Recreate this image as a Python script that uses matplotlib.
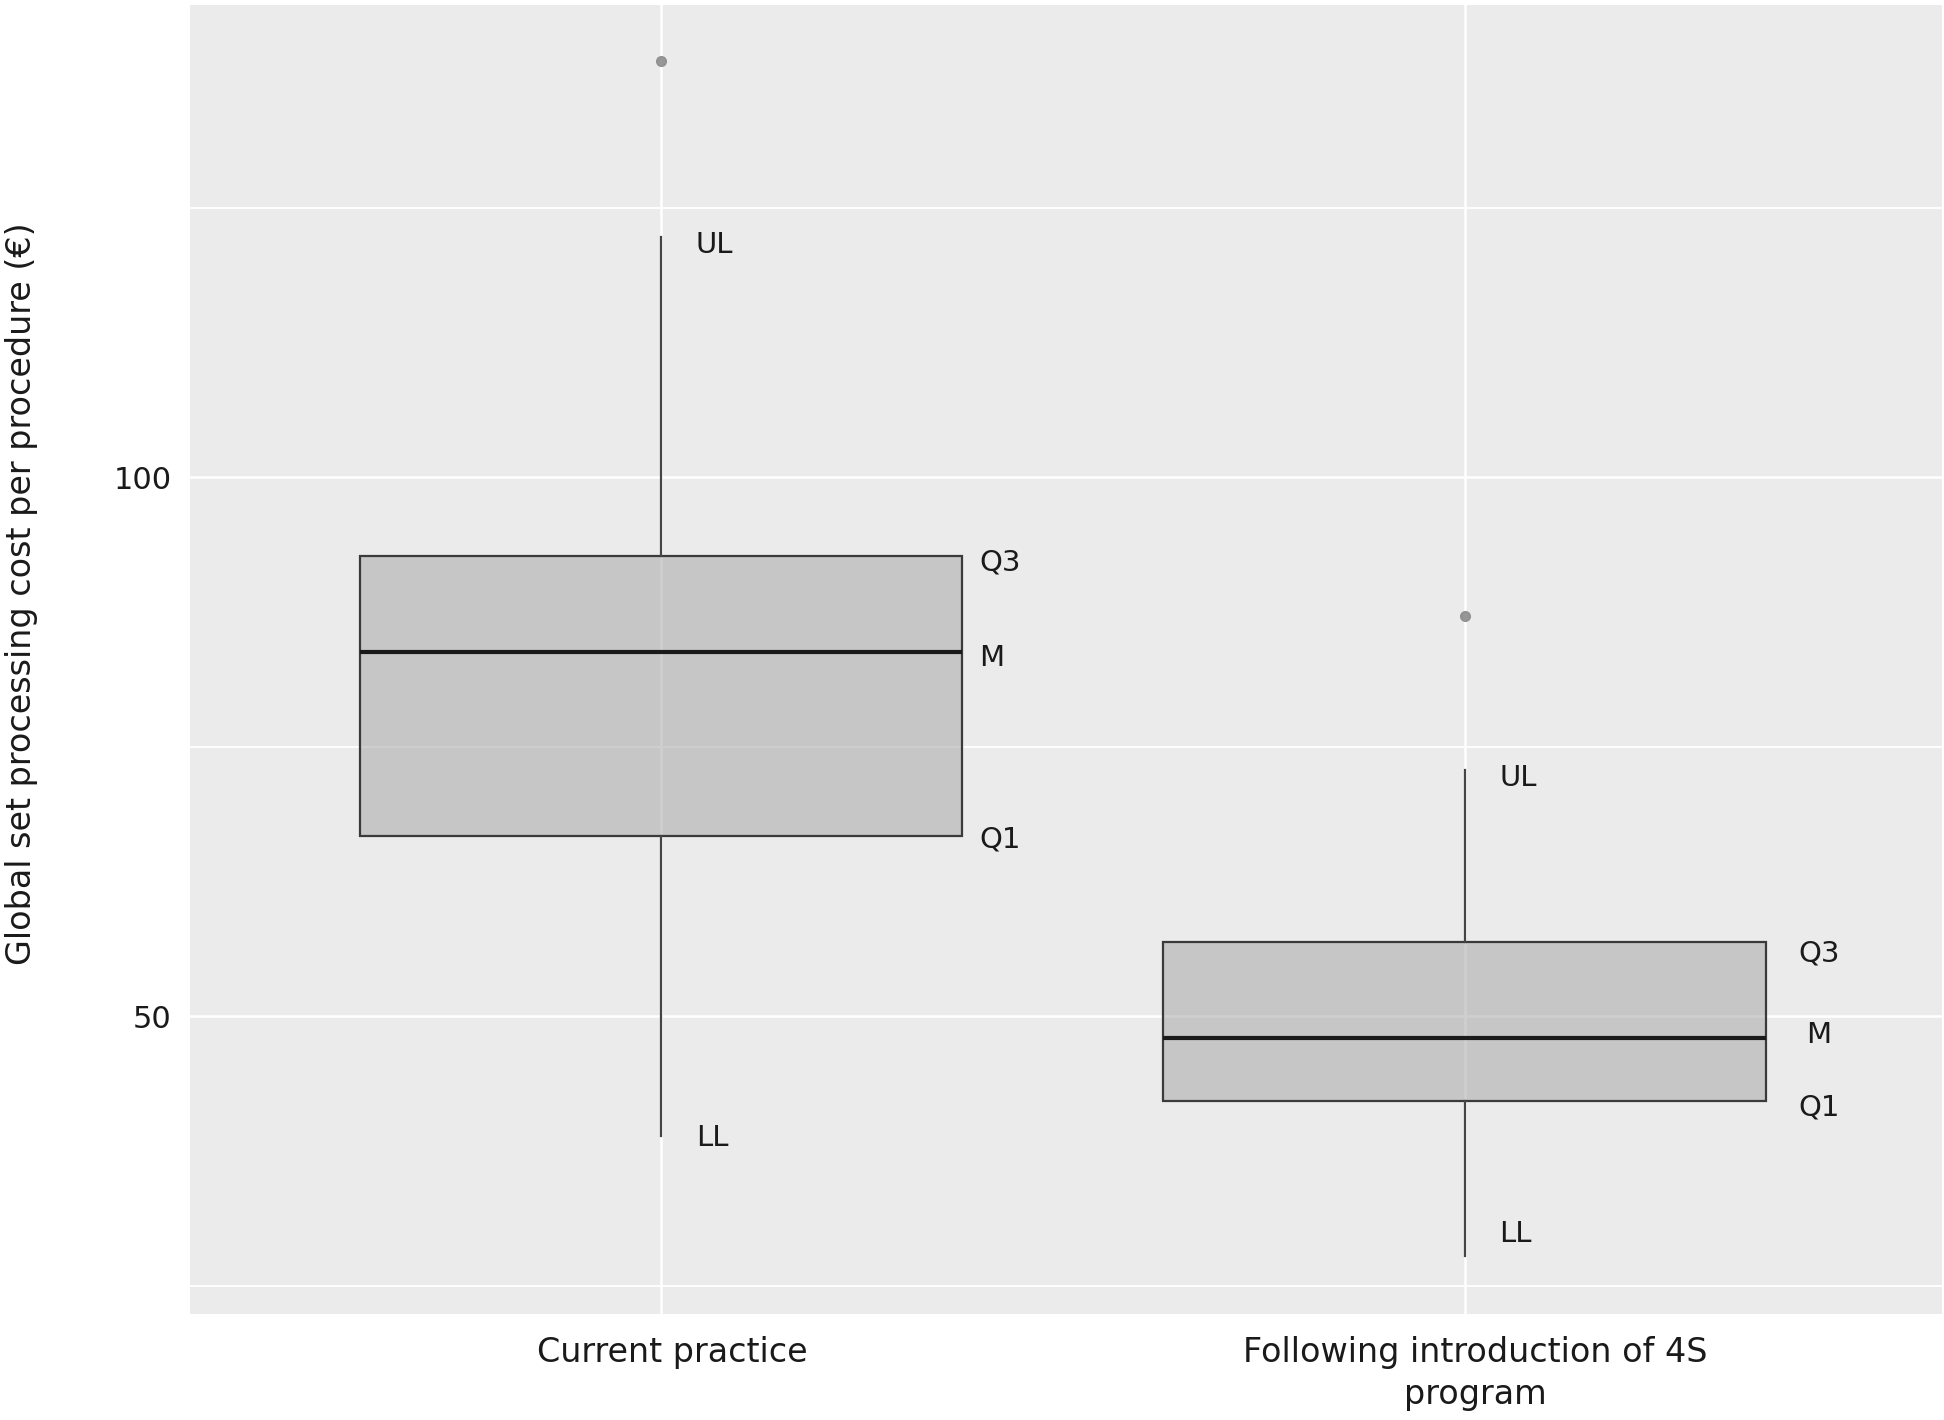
import matplotlib
matplotlib.use('Agg')
import matplotlib.pyplot as plt
import matplotlib.transforms as mtransforms

# box summary values
groups = ['Current practice', 'Following introduction of 4S\nprogram']
q1 = [66.7, 42.2]
med = [83.8, 48.0]
q3 = [92.7, 56.9]
lower = [38.9, 27.8]
upper = [122.3, 72.9]
outliers = [[138.6], [87.1]]

box_labels = ['LL', 'Q1', 'M', 'Q3', 'UL']

plt.rcParams['font.family'] = ['DejaVu Sans']

fig = plt.figure(figsize=(19.44, 14.20), dpi=100)
ax = fig.add_axes([0.0977, 0.0746, 0.9013, 0.9219])
ax.set_facecolor('#ebebeb')
for s in ax.spines.values():
    s.set_visible(False)

stats = []
for i in range(len(groups)):
    stats.append({'med': med[i], 'q1': q1[i], 'q3': q3[i],
                  'whislo': lower[i], 'whishi': upper[i], 'fliers': outliers[i]})

pos = [1, 2]
ax.bxp(stats, positions=pos, widths=0.75, patch_artist=True, showcaps=False,
       boxprops=dict(facecolor=(0.66, 0.66, 0.66, 0.55), edgecolor='#3a3a3a', linewidth=1.6),
       medianprops=dict(color='#1a1a1a', linewidth=3.0),
       whiskerprops=dict(color='#444444', linewidth=1.6),
       flierprops=dict(marker='o', markersize=7, markerfacecolor='#8c8c8c',
                       markeredgecolor='#8c8c8c', alpha=0.9),
       zorder=3)

# annotation letters
txt_kw = dict(textcoords='offset points', ha='left', va='center', fontsize=21, color='#1a1a1a', zorder=5)
offs = [
    {'UL': (25, -6), 'Q3': (12, -5), 'M': (12, -4), 'Q1': (12, -2), 'LL': (25, -1)},
    {'UL': (25, -6), 'Q3': (23, -8), 'M': (29, 2), 'Q1': (23, -5), 'LL': (25, 16)},
]
for i, p in enumerate(pos):
    half = 0.75 / 2
    vals = {'LL': lower[i], 'Q1': q1[i], 'M': med[i], 'Q3': q3[i], 'UL': upper[i]}
    for lab in box_labels:
        x = p if lab in ('LL', 'UL') else p + half
        ax.annotate(lab, (x, vals[lab]), xytext=offs[i][lab], **txt_kw)

ax.set_xlim(0.414, 2.594)
ax.set_ylim(22.4, 143.8)
ax.set_xticks(pos)
ax.set_xticklabels(groups, fontsize=24, color='#1a1a1a', linespacing=1.35)
ax.set_yticks([50, 100])
ax.set_yticks([25, 75, 125], minor=True)
ax.tick_params(axis='both', which='both', length=0)
ax.tick_params(axis='y', labelsize=22, pad=13, labelcolor='#1a1a1a')
ax.tick_params(axis='x', pad=16)
ax.grid(True, which='major', color='white', linewidth=1.8, zorder=0)
ax.grid(True, which='minor', axis='y', color='white', linewidth=1.3, zorder=0)
ax.set_axisbelow(True)

# x labels sit a little right of the tick in the original
shift = mtransforms.ScaledTranslation(0.11, 0, fig.dpi_scale_trans)
for t in ax.get_xticklabels():
    t.set_transform(t.get_transform() + shift)

fig.text(0.011, 0.582, 'Global set processing cost per procedure (€)', rotation=90,
         ha='center', va='center', fontsize=24, color='#1a1a1a')

plt.savefig('out.png', dpi=100)
plt.close(fig)
